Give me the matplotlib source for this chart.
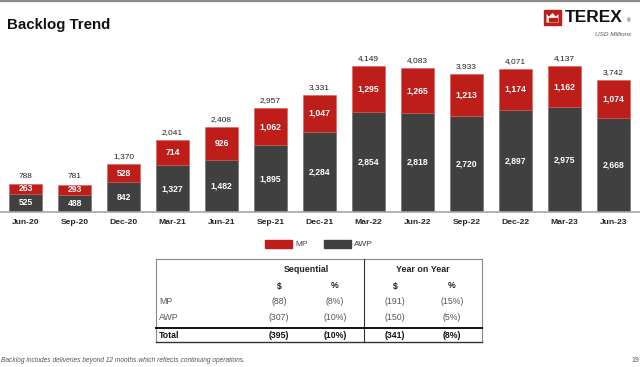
import matplotlib
matplotlib.use("Agg")
import matplotlib.pyplot as plt
from matplotlib.lines import Line2D
from matplotlib.patches import Rectangle, Polygon

plt.rcParams['font.family'] = ['Liberation Sans', 'DejaVu Sans']

quarters = ["Jun-20", "Sep-20", "Dec-20", "Mar-21", "Jun-21", "Sep-21", "Dec-21",
            "Mar-22", "Jun-22", "Sep-22", "Dec-22", "Mar-23", "Jun-23"]
mp = [263, 293, 528, 714, 926, 1062, 1047, 1295, 1265, 1213, 1174, 1162, 1074]
awp = [525, 488, 842, 1327, 1482, 1895, 2284, 2854, 2818, 2720, 2897, 2975, 2668]

table_rows = ["MP", "AWP", "Total"]
seq_dollar = ["(88)", "(307)", "(395)"]
seq_pct = ["(8%)", "(10%)", "(10%)"]
yoy_dollar = ["(191)", "(150)", "(341)"]
yoy_pct = ["(15%)", "(5%)", "(8%)"]

RED = "#BE1E19"
GRAY = "#404040"
W, H = 640, 367

fig = plt.figure(figsize=(W / 100, H / 100), dpi=100)

def P(x, y):
    return (x / W, 1 - y / H)

def ftext(x, y, s, **kw):
    fig.text(x / W, 1 - y / H, s, transform=fig.transFigure, **kw)

def fline(xs, ys, **kw):
    fig.add_artist(Line2D([x / W for x in xs], [1 - y / H for y in ys],
                          transform=fig.transFigure, **kw))

# Chart axes
base_px = 212
top_px = 40
ax = fig.add_axes([0, (H - base_px) / H, 1, (base_px - top_px) / H])
scale = 146 / 4149.0
ax.set_ylim(0, (base_px - top_px) / scale)
ax.set_xlim(-25.5 / 49, (W - 25.5) / 49)
x = list(range(len(quarters)))
bw = 33 / 49
ax.bar(x, awp, bw, color=GRAY, edgecolor="#6a6a6a", linewidth=0.4)
ax.bar(x, mp, bw, bottom=awp, color=RED, edgecolor="#d85a55", linewidth=0.4)
for i in x:
    ax.text(i, awp[i] / 2, f"{awp[i]:,}", ha="center", va="center",
            color="white", fontsize=6.2, fontweight="bold")
    ax.text(i, awp[i] + mp[i] / 2, f"{mp[i]:,}", ha="center", va="center",
            color="white", fontsize=6.2, fontweight="bold")
    tot = awp[i] + mp[i]
    ax.text(i, tot + 115, f"{tot:,}", ha="center", va="bottom",
            color="#202020", fontsize=6)
for s in ["top", "left", "right"]:
    ax.spines[s].set_visible(False)
ax.spines["bottom"].set_color("#a6a6a6")
ax.spines["bottom"].set_linewidth(1.2)
ax.set_yticks([])
ax.set_xticks(x)
ax.set_xticklabels(quarters, fontsize=6.1, fontweight="bold", color="#262626")
ax.tick_params(axis="x", length=0, pad=5)
ax.patch.set_alpha(0)

# Legend
fig.add_artist(Rectangle(P(265, 248), 27 / W, 8 / H, transform=fig.transFigure,
                         color=RED))
ftext(295, 244, "MP", fontsize=6, color="#404040", va="center")
fig.add_artist(Rectangle(P(324, 248), 27 / W, 8 / H, transform=fig.transFigure,
                         color=GRAY))
ftext(354, 244, "AWP", fontsize=6, color="#404040", va="center")

# Top line, title, logo
fline([0, W], [0.8, 0.8], color="#8c8c8c", lw=1.6)
ftext(7, 25, "Backlog Trend", fontsize=10.8, fontweight="bold", color="#111111",
      va="center")
fig.add_artist(Rectangle(P(544, 25), 17 / W, 15 / H, transform=fig.transFigure,
                         color=RED))
crown = [(546.5, 22.5), (546.5, 14), (549, 16.5), (552.5, 13), (556, 16.5),
         (558.5, 14), (558.5, 22.5)]
fig.add_artist(Polygon([P(a, b) for a, b in crown], closed=True,
                       transform=fig.transFigure, facecolor="white",
                       edgecolor="none"))
fig.add_artist(Rectangle(P(548.5, 21), 8 / W, 3.5 / H, transform=fig.transFigure,
                         color=RED))
ftext(565, 18, "TEREX", fontsize=12.5, fontweight="bold", color="#111111",
      va="center")
ftext(627, 21, "®", fontsize=3.5, color="#111111", va="center")
ftext(631, 35, "USD Millions", fontsize=4.6, style="italic", color="#555555",
      ha="right", va="center")

# Table
tl, tr, tt, tb = 156, 482, 259, 342
fline([tl, tr], [tt, tt], color="#8a8a8a", lw=0.8)
fline([tl, tl], [tt, tb], color="#8a8a8a", lw=0.8)
fline([tr, tr], [tt, tb], color="#8a8a8a", lw=0.8)
fline([364, 364], [tt, tb], color="#333333", lw=0.8)
fline([tl, tr], [tb, tb], color="#333333", lw=1.0)
fline([tl, tr], [327.5, 327.5], color="#111111", lw=1.4)

ftext(306, 269, "Sequential", fontsize=6.4, fontweight="bold", color="#222222",
      ha="center", va="center")
ftext(423, 269, "Year on Year", fontsize=6.4, fontweight="bold", color="#222222",
      ha="center", va="center")
col_x = [279, 335, 395, 452]
for cx, lab in zip(col_x, ["$", "%", "$", "%"]):
    ftext(cx, 286, lab, fontsize=6.2, fontweight="bold", color="#222222",
          ha="center", va="center")
row_y = [302, 317, 335]
for j, name in enumerate(table_rows):
    bold = name == "Total"
    fw = "bold" if bold else "normal"
    col = "#111111" if bold else "#555555"
    ftext(159, row_y[j], name, fontsize=6.3, fontweight=fw, color=col, va="center")
    vals = [seq_dollar[j], seq_pct[j], yoy_dollar[j], yoy_pct[j]]
    for cx, v in zip(col_x, vals):
        ftext(cx, row_y[j], v, fontsize=6.3, fontweight=fw, color=col,
              ha="center", va="center")

# Footnote and page number
ftext(1, 360, "Backlog includes deliveries beyond 12 months which reflects continuing operations.",
      fontsize=4.8, style="italic", color="#555555", va="center")
ftext(631, 360, "19", fontsize=5, color="#555555", va="center")

fig.savefig("out.png", dpi=100)
